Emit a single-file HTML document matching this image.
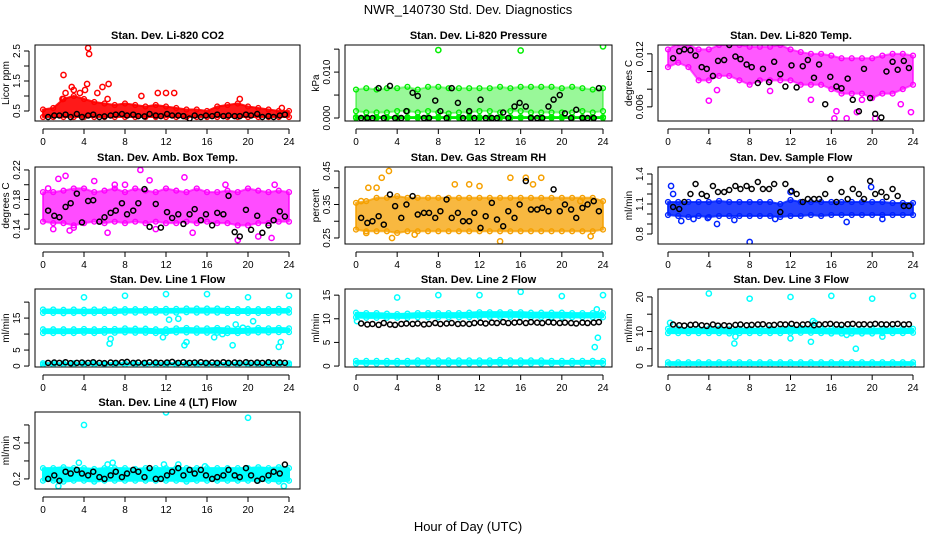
<!DOCTYPE html>
<html><head><meta charset="utf-8"><style>
body{margin:0;background:#fff;}
svg{display:block;font-family:"Liberation Sans",sans-serif;}
</style></head><body>
<svg id="c" width="936" height="540" viewBox="0 0 936 540">
<defs>
<pattern id="dotpat" width="4" height="4" patternUnits="userSpaceOnUse"><rect width="4" height="4" fill="#fff"/><circle cx="2" cy="2" r="1.5" fill="currentColor"/></pattern>
</defs>
<text x="468" y="14" text-anchor="middle" font-size="13">NWR_140730  Std. Dev. Diagnostics</text>
<text x="468" y="531" text-anchor="middle" font-size="13">Hour of Day (UTC)</text>
</svg>
<script>
const blackHours=[0.5,1.1,1.6,2.2,2.7,3.3,3.8,4.4,4.9,5.5,6.0,6.6,7.1,7.7,8.2,8.8,9.3,9.9,10.4,11.0,11.5,12.1,12.6,13.2,13.7,14.3,14.8,15.4,15.9,16.5,17.0,17.6,18.1,18.7,19.2,19.8,20.3,20.9,21.4,22.0,22.5,23.1,23.6];
const bandHours=[0,1,2,3,4,5,6,7,8,9,10,11,12,13,14,15,16,17,18,19,20,21,22,23,24];
// CO2
const co2Low=[0.3,0.3,0.3,0.3,0.3,0.3,0.3,0.3,0.3,0.3,0.3,0.3,0.3,0.3,0.3,0.3,0.3,0.3,0.3,0.3,0.3,0.3,0.3,0.3,0.3];
const co2High=[0.55,0.6,0.9,1.0,0.9,0.8,0.75,0.7,0.75,0.7,0.65,0.7,0.65,0.6,0.55,0.55,0.5,0.65,0.7,0.75,0.65,0.6,0.55,0.5,0.5];
const co2OutX=[2,2.8,4.3,4.4,4.5,5.8,6.4,6.3,11.2,12,12.8,9.6,19.2,23.3,2.2,3.6,5.3,1.9,3,4.1];
const co2OutY=[1.7,1.3,1.4,2.6,2.4,1.3,1.4,0.9,1.1,1.1,1.1,1.0,0.9,0.6,1.1,1.1,1.1,0.9,1.2,1.2];
const co2Black=[0.3,0.35,0.35,0.38,0.3,0.4,0.3,0.35,0.38,0.3,0.32,0.35,0.38,0.4,0.35,0.38,0.33,0.32,0.4,0.35,0.33,0.4,0.35,0.35,0.33,0.25,0.35,0.3,0.35,0.33,0.38,0.33,0.35,0.33,0.33,0.38,0.35,0.4,0.3,0.33,0.3,0.35,0.38];
// Pressure
const prLow=[0.0015,0.0012,0.0012,0.0012,0.0015,0.0015,0.0012,0.0015,0.0012,0.001,0.0012,0.0012,0.0015,0.0015,0.0012,0.0015,0.0015,0.0012,0.0012,0.0012,0.0012,0.0012,0.0015,0.0012,0.0015];
const prHigh=[0.0062,0.0065,0.0062,0.0065,0.0065,0.0068,0.0062,0.0068,0.0068,0.0065,0.0065,0.0065,0.0065,0.0065,0.0068,0.0065,0.0068,0.0068,0.0068,0.0068,0.0065,0.0068,0.0065,0.0062,0.0065];
const prBaseLow=[0,0,0,0,0,0,0,0,0,0,0,0,0,0,0,0,0,0,0,0,0,0,0,0,0];
const prBaseHigh=[0.0002,0.0002,0.0002,0.0002,0.0002,0.0002,0.0002,0.0002,0.0002,0.0002,0.0002,0.0002,0.0002,0.0002,0.0002,0.0002,0.0002,0.0002,0.0002,0.0002,0.0002,0.0002,0.0002,0.0002,0.0002];
const prOutX=[8,16,24];
const prOutY=[0.0148,0.0147,0.0156];
const prBlack=[0,0,0,0.0065,0,0.007,0,0,0.0015,0.0055,0.0048,0,0,0.0038,0.0015,0,0.0065,0.0033,0,0.0015,0,0.004,0,0,0,0.0012,0,0.0025,0.0033,0.0025,0,0,0,0.0025,0.004,0.005,0.001,0,0.0018,0,0,0,0.0065];
// Temp
const tLow=[0.0105,0.011,0.0105,0.009,0.009,0.0095,0.0095,0.009,0.0085,0.009,0.009,0.009,0.009,0.0085,0.0085,0.0085,0.008,0.0075,0.0075,0.0075,0.007,0.0075,0.0075,0.008,0.0085];
const tHigh=[0.0125,0.0132,0.013,0.0125,0.0125,0.013,0.013,0.013,0.0128,0.0128,0.0128,0.013,0.0125,0.0122,0.012,0.012,0.0118,0.0115,0.0115,0.0115,0.0115,0.0118,0.012,0.012,0.0118];
const tOutX=[4,4.8,16.3,17.5,16.5,22.8,23.8,20.3,14,19,10,18.5,1.4,12];
const tOutY=[0.0067,0.0079,0.0047,0.0047,0.0055,0.0063,0.0054,0.0047,0.0068,0.0068,0.0078,0.0054,0.0135,0.0135];
const tBlack=[0.0115,0.0123,0.0125,0.0124,0.0118,0.0105,0.0103,0.0095,0.0112,0.0113,0.013,0.0117,0.0114,0.0108,0.0105,0.0087,0.0103,0.0088,0.0111,0.0097,0.0083,0.0107,0.0082,0.0106,0.0113,0.0093,0.0108,0.0063,0.0094,0.0083,0.0081,0.0092,0.0068,0.0055,0.0103,0.007,0.0052,0.0048,0.01,0.0111,0.0102,0.0112,0.0104];
// Amb box
const abLow=[0.15,0.148,0.148,0.145,0.148,0.15,0.148,0.15,0.148,0.15,0.148,0.15,0.148,0.148,0.15,0.148,0.15,0.148,0.148,0.145,0.145,0.148,0.148,0.15,0.15];
const abHigh=[0.19,0.19,0.192,0.195,0.195,0.19,0.192,0.195,0.19,0.195,0.192,0.19,0.195,0.192,0.19,0.195,0.19,0.19,0.192,0.19,0.195,0.192,0.19,0.192,0.19];
const abOutX=[1.5,2.2,2.6,9.5,10.4,13.8,8,17.8,22.6,1,19,3,6.3,11,14.6,21,22.3,0.5,5,7];
const abOutY=[0.208,0.212,0.138,0.22,0.206,0.21,0.2,0.2,0.2,0.14,0.125,0.142,0.135,0.14,0.135,0.13,0.128,0.195,0.205,0.2];
const abBlack=[0.165,0.158,0.156,0.17,0.175,0.188,0.149,0.178,0.179,0.15,0.156,0.162,0.165,0.175,0.16,0.165,0.175,0.194,0.143,0.174,0.142,0.163,0.155,0.16,0.147,0.16,0.167,0.152,0.16,0.145,0.162,0.16,0.185,0.136,0.13,0.166,0.139,0.158,0.135,0.145,0.152,0.164,0.157];
// RH
const rhLow=[0.275,0.27,0.27,0.27,0.265,0.27,0.27,0.27,0.27,0.27,0.27,0.27,0.27,0.27,0.27,0.27,0.27,0.27,0.27,0.27,0.27,0.27,0.27,0.27,0.275];
const rhHigh=[0.355,0.36,0.37,0.37,0.375,0.37,0.37,0.37,0.37,0.37,0.37,0.37,0.37,0.37,0.37,0.37,0.37,0.37,0.37,0.37,0.37,0.37,0.37,0.37,0.36];
const rhOutX=[0.5,1.2,2,2.5,3.2,5.7,9.6,11,12,15,16.5,17.2,18,21.8,1,3.5,14,22.8];
const rhOutY=[0.36,0.4,0.4,0.43,0.45,0.26,0.41,0.41,0.405,0.43,0.43,0.41,0.43,0.36,0.265,0.25,0.24,0.255];
const rhBlack=[0.31,0.295,0.3,0.315,0.29,0.38,0.345,0.31,0.35,0.375,0.32,0.325,0.325,0.31,0.33,0.365,0.31,0.325,0.3,0.3,0.325,0.28,0.315,0.355,0.305,0.285,0.33,0.31,0.35,0.42,0.335,0.335,0.34,0.33,0.395,0.33,0.35,0.335,0.31,0.34,0.35,0.36,0.33];
// Sample flow
const sfLow=[0.99,0.98,0.97,0.98,0.97,0.98,0.98,0.98,0.98,0.98,0.98,0.97,0.98,0.98,0.99,0.98,0.99,0.99,0.99,0.99,0.99,0.99,0.99,0.99,0.99];
const sfHigh=[1.12,1.12,1.12,1.12,1.12,1.13,1.12,1.12,1.12,1.12,1.12,1.1,1.14,1.12,1.12,1.12,1.12,1.12,1.12,1.12,1.12,1.12,1.11,1.11,1.11];
const sfOutX=[0.3,0.5,1.3,3.9,8,12,19.9,2.5,6.5,10.5,17.5,4.8,21];
const sfOutY=[1.28,1.2,0.93,0.96,0.72,1.22,1.27,0.95,0.94,0.95,0.92,0.9,0.95];
const sfBlack=[1.07,1.05,1.12,1.2,1.3,1.2,1.18,1.28,1.22,1.22,1.24,1.28,1.25,1.28,1.25,1.32,1.25,1.25,1.3,1.02,1.3,1.23,1.2,1.12,1.15,1.15,1.15,1.2,1.35,1.12,1.22,1.15,1.25,1.2,1.15,1.33,1.2,1.22,1.17,1.25,1.18,1.08,1.08];
// Line 1
const l1aLow=[16.6,16.6,16.5,16.6,16.5,16.6,16.6,16.6,16.7,16.7,16.7,16.7,16.7,16.7,16.8,16.7,16.7,16.7,16.6,16.6,16.6,16.6,16.6,16.7,16.7];
const l1aHigh=[17.7,17.7,17.6,17.7,17.6,17.7,17.7,17.7,17.8,17.8,17.8,17.8,17.9,17.9,18,18,18,18,17.9,17.8,17.8,17.8,17.8,17.9,17.8];
const l1bLow=[10.3,10.3,10.3,10.3,10.4,10.3,10.4,10.4,10.5,10.4,10.4,10.3,10.3,10.5,10.5,10.4,10.4,10.4,10.3,10.3,10.4,10.5,10.5,10.6,10.6];
const l1bHigh=[11.5,11.5,11.5,11.5,11.6,11.5,11.6,11.6,11.8,11.7,11.7,11.5,11.5,11.8,11.9,11.8,11.8,11.9,11.8,11.6,11.7,11.9,11.8,11.9,11.8];
const l1cLow=[0.4,0.4,0.4,0.4,0.4,0.4,0.4,0.4,0.4,0.4,0.4,0.4,0.4,0.4,0.4,0.4,0.4,0.4,0.4,0.4,0.4,0.4,0.4,0.4,0.4];
const l1cHigh=[0.9,0.9,0.9,0.9,0.9,0.9,0.9,0.9,0.9,0.9,0.9,0.9,0.9,0.9,0.9,0.9,0.9,0.9,0.9,0.9,0.9,0.9,0.9,0.9,0.9];
const l1OutX=[4,8,12,16,20,24,6.5,12.3,13.2,13.8,14,18.5,18.8,19.5,20.5,23,23.2,11.7,16.7,17.5,6.6];
const l1OutY=[21.5,22,22.5,22.5,21.5,22,7,14.5,14.8,6.5,7.5,6.5,13,12,14,6,7.5,9,9,10,8.5];
const l1Black=[1,1.1,1,1.2,0.9,1,1.1,1,1.2,1,0.9,1.1,1,1.2,1.3,1,1.1,1,1.2,1.1,1,1.1,1.3,1,1.2,1,1.1,1.2,1,1.1,1,1.2,1,1.1,1,1.2,1,1.1,1,1.2,1,1.1,1];
// Line 2
const l2aLow=[10.3,10.2,10.2,10.2,10.2,10.2,10.3,10.3,10.3,10.3,10.3,10.3,10.4,10.4,10.4,10.4,10.4,10.3,10.3,10.3,10.3,10.3,10.3,10.3,10.3];
const l2aHigh=[11.3,11.2,11.2,11.1,11,11.1,11.2,11.2,11.2,11.2,11.2,11.3,11.4,11.4,11.4,11.4,11.4,11.3,11.3,11.3,11.3,11.2,11.2,11.2,11.2];
const l2cLow=[0.5,0.5,0.5,0.5,0.5,0.5,0.5,0.5,0.5,0.5,0.5,0.5,0.5,0.5,0.5,0.5,0.5,0.5,0.5,0.5,0.5,0.5,0.5,0.5,0.5];
const l2cHigh=[1.1,1.1,1.1,1.1,1.1,1.1,1.2,1.2,1.2,1.2,1.2,1.2,1.2,1.2,1.3,1.2,1.2,1.2,1.2,1.1,1.1,1.1,1.1,1.1,1.1];
const l2OutX=[4,8,12,16,20,24,23.2,23.5,23.4,0.1];
const l2OutY=[14.5,15,15,15.7,14.8,15,4,6,12,9.5];
const l2Black=[9.0,8.8,8.9,8.7,9.1,8.8,8.7,8.9,9.0,8.9,9.0,8.8,8.9,9.1,8.9,9.0,9.1,8.9,9.0,8.9,9.1,9.2,9.0,9.2,9.1,9.3,9.1,9.2,9.3,9.1,9.3,9.2,9.1,9.3,9.2,9.1,9.2,9.1,9.0,9.2,9.1,9.2,9.3];
// Line 3
const l3aLow=[9.5,9.5,9.5,9.5,9.5,9.5,9.4,9.5,9.5,9.5,9.5,9.5,9.6,9.6,9.6,9.5,9.4,9.4,9.4,9.4,9.4,9.5,9.5,9.5,9.6];
const l3aHigh=[10.8,10.8,10.8,10.8,10.8,10.8,10.6,10.8,10.8,10.8,10.8,10.8,11,11,11,10.8,10.8,10.8,10.8,10.8,10.8,10.8,10.8,10.8,10.8];
const l3cLow=[0.3,0.3,0.3,0.3,0.3,0.3,0.3,0.3,0.3,0.3,0.3,0.3,0.3,0.3,0.3,0.3,0.3,0.3,0.3,0.3,0.3,0.3,0.3,0.3,0.3];
const l3cHigh=[1.1,1.1,1.1,1.1,1.1,1.1,1.1,1.1,1.1,1.1,1.1,1.1,1.1,1.1,1.1,1.1,1.1,1.1,1.1,1.1,1.1,1.1,1.1,1.1,1.1];
const l3OutX=[4,8,12,16,20,24,6.5,6.6,12,14,14.2,18.4,0.2,14.4,17.5,21];
const l3OutY=[21,19.5,20,20.3,19.5,20.3,6.5,8.5,8,7,13,5,12.5,12.5,9,8.5];
const l3Black=[12.0,11.8,11.7,11.9,12.0,11.8,11.6,12.0,11.7,11.8,11.6,11.9,12.0,11.8,11.9,12.0,12.1,11.8,11.9,12.1,12.0,12.2,11.9,12.0,12.1,11.8,12.0,12.1,12.2,12.0,11.9,12.1,12.2,12.0,12.1,12.0,12.2,12.1,12.0,12.1,12.2,12.0,12.1];
// Line 4
const l4Low=[0.19,0.19,0.185,0.19,0.19,0.185,0.19,0.19,0.19,0.19,0.19,0.19,0.19,0.19,0.185,0.19,0.19,0.19,0.19,0.19,0.19,0.19,0.19,0.185,0.19];
const l4High=[0.26,0.26,0.265,0.26,0.26,0.255,0.26,0.26,0.26,0.255,0.26,0.26,0.26,0.26,0.26,0.26,0.26,0.26,0.26,0.26,0.26,0.265,0.26,0.265,0.26];
const l4OutX=[4,12,20,3.5,6.3,6.8,13.2,1.5,23.5,11.8,15.8];
const l4OutY=[0.5,0.57,0.54,0.29,0.28,0.29,0.28,0.16,0.16,0.28,0.27];
const l4Black=[0.2,0.22,0.19,0.24,0.23,0.25,0.23,0.22,0.24,0.21,0.2,0.22,0.24,0.21,0.23,0.25,0.24,0.21,0.26,0.2,0.2,0.22,0.24,0.26,0.22,0.25,0.23,0.25,0.22,0.2,0.21,0.22,0.25,0.22,0.21,0.26,0.22,0.19,0.2,0.22,0.24,0.23,0.28];

const NS='http://www.w3.org/2000/svg';
const svg=document.getElementById('c');
const colBox=[[35,300,43,289],[345,612,356,603],[658,924,668,913]];
const rowBox=[[45,121],[167,244],[289,367],[412,489]];
function mk(tag,at,parent){const e=document.createElementNS(NS,tag);for(const k in at)e.setAttribute(k,at[k]);(parent||svg).appendChild(e);return e;}

function panel(opt){
  const [L,R,X0,X24]=colBox[opt.col];const [T,B]=rowBox[opt.row];
  const g=mk('g',{});
  
  
  const sx=h=>X0+(X24-X0)*h/24;
  const sy=v=>B-(v-opt.ylim[0])/(opt.ylim[1]-opt.ylim[0])*(B-T);
  const clip=mk('clipPath',{id:'cp'+opt.name},g);mk('rect',{x:L,y:T,width:R-L,height:B-T},clip);
  const pg=mk('g',{'clip-path':'url(#cp'+opt.name+')'},g);
  (opt.bands||[]).forEach(b=>{
    let pts=bandHours.map((h,i)=>sx(h)+','+sy(b.hi[i]));
    pts=pts.concat(bandHours.slice().reverse().map((h,j)=>{const i=bandHours.length-1-j;return sx(h)+','+sy(b.lo[i]);}));
    const op=b.op||1;
    const p=mk('polygon',{points:pts.join(' '),fill:b.color,'fill-opacity':op,stroke:b.color,'stroke-opacity':op,'stroke-width':2,'stroke-linejoin':'round'},pg);
    
    
    bandHours.forEach((h,i)=>{
      [b.hi[i],b.lo[i]].forEach(v=>{
        const c=mk('circle',{cx:sx(h),cy:sy(v),r:2.4,fill:'none',stroke:b.color,'stroke-width':1.4},pg);
        
        
      });
    });
  });
  (opt.outX||[]).forEach((h,i)=>{
    const c=mk('circle',{cx:sx(h),cy:sy(opt.outY[i]),r:2.6,fill:'none',stroke:opt.outColor,'stroke-width':1.5},pg);
    
    
  });
  blackHours.forEach((h,i)=>{
    const c=mk('circle',{cx:sx(h),cy:sy(opt.black[i]),r:2.5,fill:'none',stroke:'#000','stroke-width':1.5},pg);
    
    
  });
  const box=mk('rect',{x:L,y:T,width:R-L,height:B-T,fill:'none',stroke:'#000','stroke-width':1},g);
  
  
  const t=mk('text',{x:(L+R)/2,y:T-6,'text-anchor':'middle','font-size':11,'font-weight':'bold'},g);
  t.textContent=opt.title;
  
  
  mk('line',{x1:X0,x2:X24,y1:B+8,y2:B+8,stroke:'#000'},g);
  [0,4,8,12,16,20,24].forEach(h=>{
    mk('line',{x1:sx(h),x2:sx(h),y1:B+8,y2:B+13,stroke:'#000'},g);
    const tx=mk('text',{x:sx(h),y:B+24,'text-anchor':'middle','font-size':10},g);
    tx.textContent=h;
    
    
  });
  const ya=L-6;
  mk('line',{x1:ya,x2:ya,y1:sy(opt.ticks[0]),y2:sy(opt.ticks[opt.ticks.length-1]),stroke:'#000'},g);
  opt.ticks.forEach(v=>{mk('line',{x1:ya,x2:ya-5,y1:sy(v),y2:sy(v),stroke:'#000'},g);});
  opt.labels.forEach((s,i)=>{
    const y=sy(opt.labelVals[i]);
    const tx=mk('text',{x:ya-9,y:y,'text-anchor':'middle','font-size':10,transform:'rotate(-90 '+(ya-9)+' '+y+')'},g);
    tx.textContent=s;
    
    
  });
  const yl=mk('text',{x:L-26,y:(T+B)/2,'text-anchor':'middle','font-size':10,transform:'rotate(-90 '+(L-26)+' '+(T+B)/2+')'},g);
  yl.textContent=opt.ylab;
  
  
}
const RED='#ff0000',GRN='#00ee00',MAG='#ff00ff',ORG='#f5a000',BLU='#0022ff',CY='#00ffff';
panel({name:'co2-panel',col:0,row:0,title:'Stan. Dev. Li-820 CO2',ylab:'Licor ppm',ylim:[0.167,2.7],ticks:[0.5,1,1.5,2,2.5],labels:['0.5','1.5','2.5'],labelVals:[0.5,1.5,2.5],bands:[{lo:co2Low,hi:co2High,color:RED,op:0.9}],outX:co2OutX,outY:co2OutY,outColor:RED,black:co2Black});
panel({name:'pressure-panel',col:1,row:0,title:'Stan. Dev. Li-820 Pressure',ylab:'kPa',ylim:[-0.00065,0.0159],ticks:[0,0.005,0.01,0.015],labels:['0.000','0.010'],labelVals:[0,0.01],bands:[{lo:prLow,hi:prHigh,color:GRN,op:0.4},{lo:prBaseLow,hi:prBaseHigh,color:GRN,op:1}],outX:prOutX,outY:prOutY,outColor:GRN,black:prBlack});
panel({name:'temp-panel',col:2,row:0,title:'Stan. Dev. Li-820 Temp.',ylab:'degrees C',ylim:[0.0044,0.013],ticks:[0.006,0.008,0.01,0.012],labels:['0.006','0.012'],labelVals:[0.006,0.012],bands:[{lo:tLow,hi:tHigh,color:MAG,op:0.65}],outX:tOutX,outY:tOutY,outColor:MAG,black:tBlack});
panel({name:'ambbox-panel',col:0,row:1,title:'Stan. Dev. Amb. Box Temp.',ylab:'degrees C',ylim:[0.1198,0.224],ticks:[0.14,0.16,0.18,0.2,0.22],labels:['0.14','0.18','0.22'],labelVals:[0.14,0.18,0.22],bands:[{lo:abLow,hi:abHigh,color:MAG,op:0.7}],outX:abOutX,outY:abOutY,outColor:MAG,black:abBlack});
panel({name:'rh-panel',col:1,row:1,title:'Stan. Dev. Gas Stream RH',ylab:'percent',ylim:[0.232,0.462],ticks:[0.25,0.3,0.35,0.4,0.45],labels:['0.25','0.35','0.45'],labelVals:[0.25,0.35,0.45],bands:[{lo:rhLow,hi:rhHigh,color:ORG,op:0.75}],outX:rhOutX,outY:rhOutY,outColor:ORG,black:rhBlack});
panel({name:'sampleflow-panel',col:2,row:1,title:'Stan. Dev. Sample Flow',ylab:'ml/min',ylim:[0.70,1.47],ticks:[0.8,0.9,1.0,1.1,1.2,1.3,1.4],labels:['0.8','1.1','1.4'],labelVals:[0.8,1.1,1.4],bands:[{lo:sfLow,hi:sfHigh,color:BLU,op:0.85}],outX:sfOutX,outY:sfOutY,outColor:BLU,black:sfBlack});
panel({name:'line1-panel',col:0,row:2,title:'Stan. Dev. Line 1 Flow',ylab:'ml/min',ylim:[-0.3,24.1],ticks:[0,5,10,15,20],labels:['0','5','15'],labelVals:[0,5,15],bands:[{lo:l1aLow,hi:l1aHigh,color:CY},{lo:l1bLow,hi:l1bHigh,color:CY},{lo:l1cLow,hi:l1cHigh,color:CY}],outX:l1OutX,outY:l1OutY,outColor:CY,black:l1Black});
panel({name:'line2-panel',col:1,row:2,title:'Stan. Dev. Line 2 Flow',ylab:'ml/min',ylim:[-0.2,16.3],ticks:[0,5,10,15],labels:['0','5','10','15'],labelVals:[0,5,10,15],bands:[{lo:l2aLow,hi:l2aHigh,color:CY},{lo:l2cLow,hi:l2cHigh,color:CY}],outX:l2OutX,outY:l2OutY,outColor:CY,black:l2Black});
panel({name:'line3-panel',col:2,row:2,title:'Stan. Dev. Line 3 Flow',ylab:'ml/min',ylim:[-0.3,22.3],ticks:[0,5,10,15,20],labels:['0','5','10','20'],labelVals:[0,5,10,20],bands:[{lo:l3aLow,hi:l3aHigh,color:CY},{lo:l3cLow,hi:l3cHigh,color:CY}],outX:l3OutX,outY:l3OutY,outColor:CY,black:l3Black});
panel({name:'line4-panel',col:0,row:3,title:'Stan. Dev. Line 4 (LT) Flow',ylab:'ml/min',ylim:[0.144,0.572],ticks:[0.2,0.3,0.4,0.5],labels:['0.2','0.4'],labelVals:[0.2,0.4],bands:[{lo:l4Low,hi:l4High,color:CY}],outX:l4OutX,outY:l4OutY,outColor:CY,black:l4Black});
</script>
</body></html>
